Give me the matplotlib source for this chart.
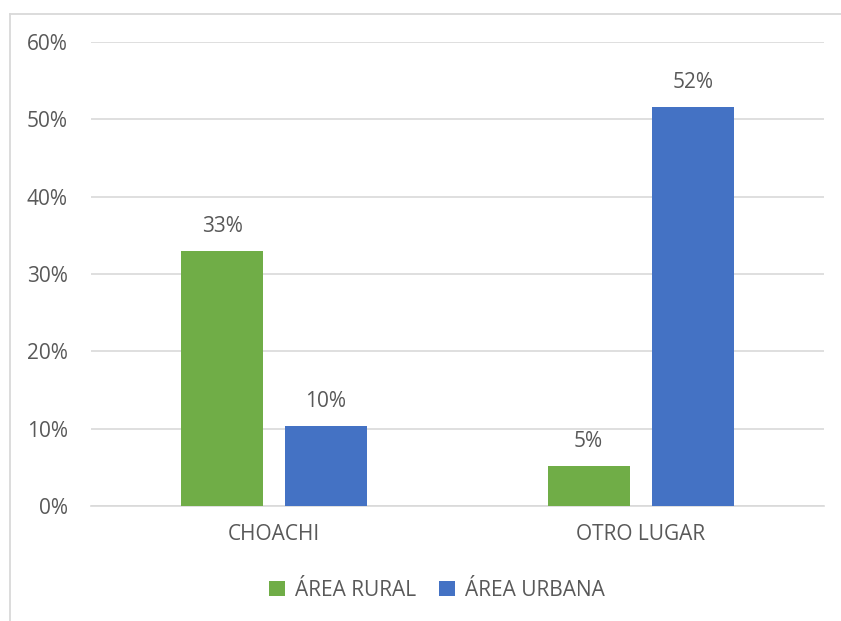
import matplotlib
matplotlib.use("Agg")
import matplotlib.pyplot as plt
from matplotlib.lines import Line2D
import numpy as np

categories = ["CHOACHI", "OTRO LUGAR"]
series_names = ["ÁREA RURAL", "ÁREA URBANA"]
rural = [33.0, 5.2]
urbana = [10.3, 51.6]
labels_rural = ["33%", "5%"]
labels_urbana = ["10%", "52%"]
yticks = [0, 10, 20, 30, 40, 50, 60]
ytick_labels = ["0%", "10%", "20%", "30%", "40%", "50%", "60%"]

green = "#70AD47"
blue = "#4472C4"
txt = "#595959"
grid = "#D9D9D9"
fs = 15

plt.rcParams['font.family'] = ['Open Sans', 'DejaVu Sans']

fig = plt.figure(figsize=(8.41, 6.21), dpi=100)
ax = fig.add_axes([90.7/841, 1-506/621, (824-90.7)/841, (506-42)/621])

# outer chart border (left and top visible)
bx, by = 10/841, 1-14/621
fig.lines.append(Line2D([bx, bx], [0, by], transform=fig.transFigure, color="#D9D9D9", linewidth=1.3))
fig.lines.append(Line2D([bx, 1], [by, by], transform=fig.transFigure, color="#D9D9D9", linewidth=1.3))

x = np.arange(len(categories))
w = 0.2236
off = w/2 + 0.03
b1 = ax.bar(x - off, rural, w, color=green, label=series_names[0], zorder=3)
b2 = ax.bar(x + off, urbana, w, color=blue, label=series_names[1], zorder=3)

for rect, lab in zip(b1, labels_rural):
    ax.annotate(lab, (rect.get_x()+rect.get_width()/2, rect.get_height()), xytext=(0, 10),
                textcoords="offset points", ha="center", va="bottom", fontsize=fs, color=txt)
for rect, lab in zip(b2, labels_urbana):
    ax.annotate(lab, (rect.get_x()+rect.get_width()/2, rect.get_height()), xytext=(0, 10),
                textcoords="offset points", ha="center", va="bottom", fontsize=fs, color=txt)

ax.set_xlim(-0.5, 1.5)
ax.set_ylim(0, 60)
ax.set_yticks(yticks)
ax.set_yticklabels(ytick_labels)
ax.set_xticks(x)
ax.set_xticklabels(categories)
ax.tick_params(axis='both', length=0, colors=txt, labelsize=fs)
ax.tick_params(axis='y', pad=16.5)
ax.tick_params(axis='x', pad=13)
ax.yaxis.grid(True, color=grid, linewidth=1.2, zorder=0)
ax.set_axisbelow(True)
for s in ["top", "right", "left"]:
    ax.spines[s].set_visible(False)
ax.spines["bottom"].set_color(grid)
ax.spines["bottom"].set_linewidth(1.2)

fig.legend(handles=[b1, b2], labels=series_names, loc="center", bbox_to_anchor=(437/841, 1-590/621),
           ncol=2, frameon=False, fontsize=fs, labelcolor=txt, handlelength=0.75, handleheight=0.75,
           handletextpad=0.5, columnspacing=1.1)

fig.savefig("out.png", dpi=100)
